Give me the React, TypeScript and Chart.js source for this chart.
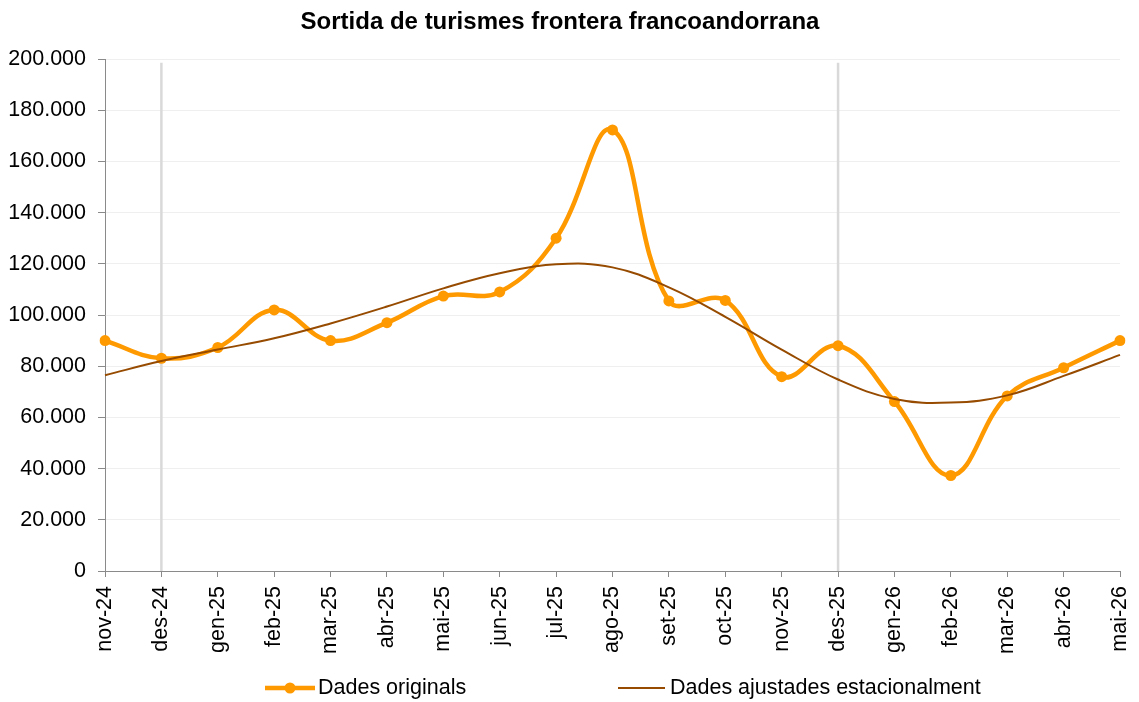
import React, { useEffect, useRef } from 'react';
import { Chart, registerables } from 'chart.js';

Chart.register(...registerables);

const TITLE = 'Sortida de turismes frontera francoandorrana';

const MONTHS = [
  'nov-24', 'des-24', 'gen-25', 'feb-25', 'mar-25', 'abr-25', 'mai-25', 'jun-25', 'jul-25',
  'ago-25', 'set-25', 'oct-25', 'nov-25', 'des-25', 'gen-26', 'feb-26', 'mar-26', 'abr-26', 'mai-26',
];

const ORIGINAL = [
  90000, 83100, 87300, 102000, 90000, 97000, 107400, 109000, 130000,
  172300, 105500, 105700, 75900, 88000, 66200, 37300, 68400, 79400, 90000,
];

const ADJUSTED = [
  76500, 82000, 86500, 90900, 96700, 103300, 110400, 116300, 119800,
  118600, 110800, 99300, 86500, 74800, 67200, 65800, 68600, 76200, 84400,
];

const SERIES_NAMES = ['Dades originals', 'Dades ajustades estacionalment'];
const MARKED_MONTHS = ['des-24', 'des-25'];
const MARKER_TOP = 198500;

const Y_MIN = 0;
const Y_MAX = 200000;
const Y_STEP = 20000;

const FONT = "'Liberation Sans', Arial, sans-serif";
const ORANGE = '#FF9900';
const BROWN = '#964B00';
const AXIS = '#8a8a8a';

const fmt = (v: number) => String(Math.round(v)).replace(/\B(?=(\d{3})+(?!\d))/g, '.');

const markerLines = {
  id: 'markerLines',
  beforeDatasetsDraw(chart: any) {
    const { ctx, scales } = chart;
    const x = scales.x;
    const y = scales.y;
    ctx.save();
    ctx.strokeStyle = '#d9d9d9';
    ctx.lineWidth = 2.5;
    MARKED_MONTHS.forEach((m) => {
      const i = MONTHS.indexOf(m);
      const px = x.getPixelForValue(i);
      ctx.beginPath();
      ctx.moveTo(px, y.getPixelForValue(MARKER_TOP));
      ctx.lineTo(px, y.getPixelForValue(0));
      ctx.stroke();
    });
    ctx.restore();
  },
};

const customLegend = {
  id: 'customLegend',
  afterDraw(chart: any) {
    const { ctx } = chart;
    const yc = 688;
    ctx.save();
    ctx.font = `21.5px ${FONT}`;
    ctx.textBaseline = 'middle';
    ctx.textAlign = 'left';
    // item 1
    ctx.strokeStyle = ORANGE;
    ctx.lineWidth = 4.5;
    ctx.beginPath();
    ctx.moveTo(265, yc);
    ctx.lineTo(315, yc);
    ctx.stroke();
    ctx.fillStyle = ORANGE;
    ctx.beginPath();
    ctx.arc(290, yc, 5.5, 0, Math.PI * 2);
    ctx.fill();
    ctx.fillStyle = '#000';
    ctx.fillText(SERIES_NAMES[0], 318, yc);
    // item 2
    ctx.strokeStyle = BROWN;
    ctx.lineWidth = 2;
    ctx.beginPath();
    ctx.moveTo(618, yc);
    ctx.lineTo(665, yc);
    ctx.stroke();
    ctx.fillText(SERIES_NAMES[1], 670, yc);
    ctx.restore();
  },
};

export default function App() {
  const ref = useRef<HTMLCanvasElement | null>(null);

  useEffect(() => {
    if (!ref.current) return;
    const chart = new Chart(ref.current, {
      type: 'line',
      data: {
        labels: MONTHS,
        datasets: [
          {
            label: SERIES_NAMES[0],
            data: ORIGINAL,
            borderColor: ORANGE,
            backgroundColor: ORANGE,
            borderWidth: 4.5,
            pointRadius: 5.5,
            pointBackgroundColor: ORANGE,
            pointBorderWidth: 0,
            tension: 0.4,
            order: 2,
          },
          {
            label: SERIES_NAMES[1],
            data: ADJUSTED,
            borderColor: BROWN,
            backgroundColor: BROWN,
            borderWidth: 2,
            pointRadius: 0,
            tension: 0.4,
            order: 1,
          },
        ],
      },
      options: {
        animation: false,
        responsive: false,
        devicePixelRatio: 1,
        layout: { padding: { left: 0, right: 19, top: 0, bottom: 41 } },
        plugins: {
          legend: { display: false },
          tooltip: { enabled: false },
          title: {
            display: true,
            text: TITLE,
            color: '#000',
            font: { family: FONT, size: 24, weight: 'bold' },
            padding: { top: 8, bottom: 22.2 },
          },
        },
        scales: {
          x: {
            type: 'category',
            offset: false,
            grid: { drawOnChartArea: false, drawTicks: true, tickLength: 6, tickColor: AXIS },
            border: { color: AXIS, width: 1 },
            ticks: {
              autoSkip: false,
              maxRotation: 90,
              minRotation: 90,
              padding: 9,
              color: '#000',
              font: { family: FONT, size: 21.5 },
            },
            afterFit: (s: any) => {
              s.height = 90;
              s.paddingLeft = 0;
              s.paddingRight = 0;
            },
          },
          y: {
            min: Y_MIN,
            max: Y_MAX,
            grid: { color: '#efefef', tickLength: 7, tickColor: AXIS },
            border: { color: AXIS, width: 1 },
            ticks: {
              stepSize: Y_STEP,
              padding: 12,
              color: '#000',
              font: { family: FONT, size: 21.5 },
              callback: (v: any) => fmt(Number(v)),
            },
            afterFit: (s: any) => {
              s.width = 105;
            },
          },
        },
      },
      plugins: [markerLines, customLegend],
    } as any);
    return () => chart.destroy();
  }, []);

  return (
    <div style={{ position: 'absolute', left: 0, top: 0, width: 1139, height: 702, background: '#fff' }}>
      <canvas ref={ref} width={1139} height={702} style={{ display: 'block' }} />
    </div>
  );
}
